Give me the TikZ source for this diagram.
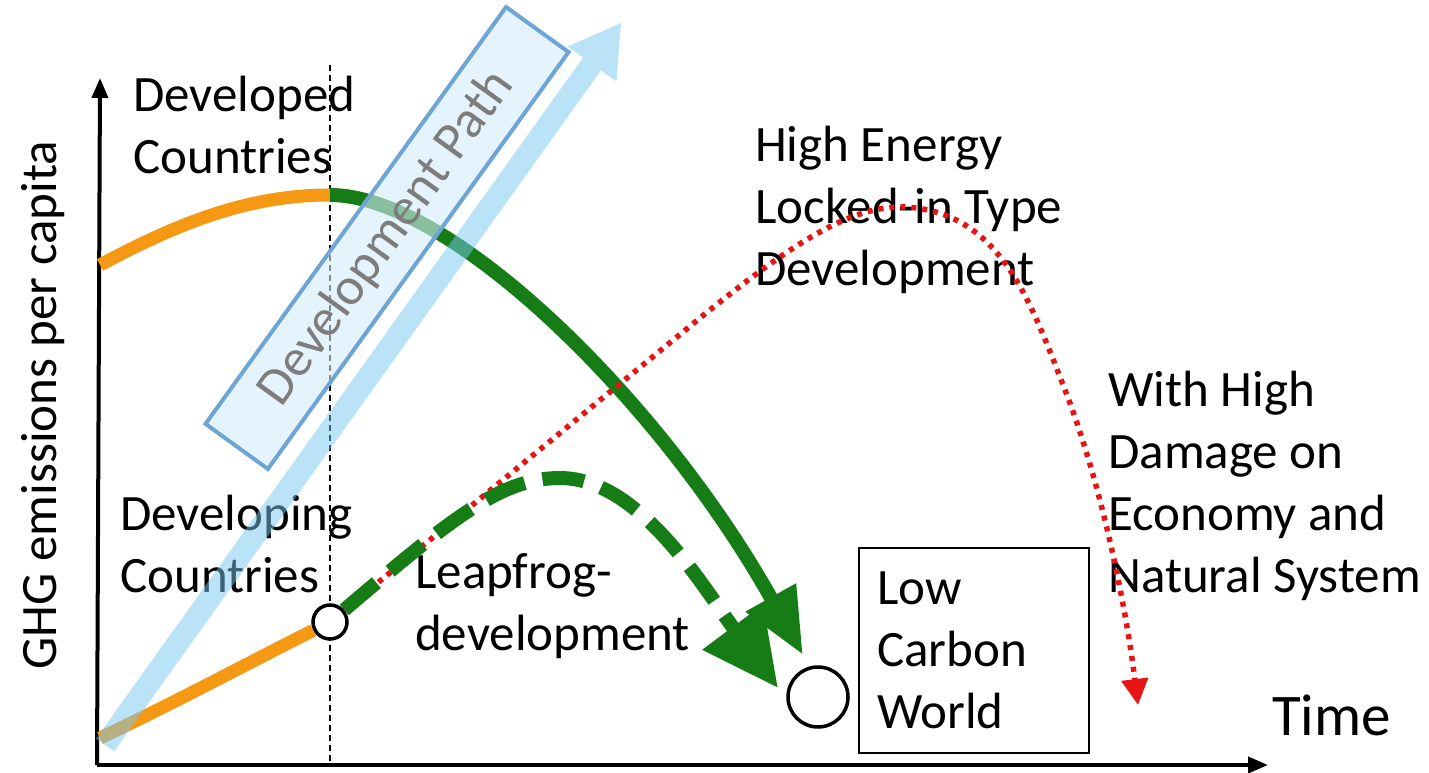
\documentclass[tikz,border=0pt]{standalone}
\usepackage{fontspec}
\setmainfont{Carlito}
\usetikzlibrary{arrows.meta}
\definecolor{orangeC}{RGB}{245,152,20}
\definecolor{greenC}{RGB}{22,125,22}
\definecolor{redC}{RGB}{232,20,20}
\definecolor{pathblue}{RGB}{110,165,215}
\definecolor{pathfill}{RGB}{212,235,250}
\definecolor{arrowblue}{RGB}{120,200,242}
\definecolor{pathtext}{RGB}{125,125,125}
\begin{document}
\begin{tikzpicture}[x=1pt,y=-1pt,
  lbl/.style={font=\fontsize{51}{62}\selectfont, align=left, anchor=base west, inner sep=0pt},
  axisline/.style={line width=4pt, -{Triangle[width=16pt,length=20pt]}},
  orangeline/.style={orangeC, line width=13pt},
  greenline/.style={greenC, line width=14pt},
  redline/.style={redC, line width=5.5pt, dash pattern=on 5pt off 6pt},
  ring/.style={circle, draw=black, fill=white, line width=3.5pt, inner sep=0pt},
  pathbox/.style={draw=pathblue, line width=4pt, fill=pathfill, fill opacity=0.6, text opacity=1, text=pathtext, inner sep=0pt, font=\fontsize{53}{62}\selectfont},
  guide/.style={black, line width=1.3pt, dash pattern=on 6pt off 4pt}
]
\useasboundingbox (0,0) rectangle (1429,773);

% axes
\coordinate (orig) at (100,765);
\coordinate (ytop) at (100,78);
\coordinate (xend) at (1268,765);
\draw[axisline] (97,765) -- (ytop);
\draw[axisline] (97,765) -- (xend);

% vertical guide
\coordinate (g1) at (330,65);
\coordinate (g2) at (330,765);
\draw[guide] (g1) -- (g2);

% labels (anchor = baseline of last line)
\node[lbl, rotate=90, anchor=base] (ylab) at (56,405) {GHG emissions per capita};
\node[lbl] (developed) at (133,173) {Developed\\Countries};
\node[lbl] (developing) at (120,592) {Developing\\Countries};
\node[lbl] (leap) at (415,650) {Leapfrog-\\development};
\node[lbl] (high) at (755,285) {High Energy\\Locked-in Type\\Development};
\node[lbl] (damage) at (1108,592) {With High\\Damage on\\Economy and\\Natural System};
\node[lbl, font=\fontsize{59}{62}\selectfont] (time) at (1272,735) {Time};

% low carbon world box
\node[draw=black, line width=2pt, minimum width=230pt, minimum height=205pt, anchor=north west, inner sep=0pt] (box) at (858,547) {};
\node[lbl] (lcwtext) at (877,728) {Low\\Carbon\\World};

% circles
\node[ring, minimum size=34pt] (dev) at (330,622) {};
\node[ring, minimum size=60pt] (lcw) at (818,697) {};

% key points
\coordinate (o1) at (100,265);
\coordinate (top) at (330,195);
\coordinate (o2) at (100,738);
\coordinate (gtip) at (803,655);
\coordinate (dtip) at (778,688);
\coordinate (rtip) at (1138,705);

% orange curves
\draw[orangeline] (o1) .. controls (180,222) and (250,195) .. (top);
\draw[orangeline] (o2) .. controls (180,700) and (250,662) .. (dev);

% green solid
\draw[greenline, -{Triangle[width=54pt,length=66pt]}] (top) .. controls (450,195) and (660,400) .. (gtip);

% red dotted
\draw[redline, -{Triangle[width=26pt,length=26pt]}] (dev) -- (700,318) .. controls (790,245) and (850,205) .. (905,207) .. controls (1000,212) and (1030,300) .. (1065,390) .. controls (1100,480) and (1125,600) .. (rtip);

% green dashed
\draw[greenline, dash pattern=on 42pt off 18pt, -{Triangle[width=72pt,length=76pt]}] (dev) .. controls (450,520) and (500,478) .. (560,478) .. controls (640,478) and (705,590) .. (dtip);

% development path arrow
\fill[arrowblue, opacity=0.5] (96,738.6) -- (583,57.6) -- (567.6,46.5) -- (621,23) -- (616.4,81.5) -- (601,70.4) -- (114,751.4) -- cycle;

% development path box
\node[pathbox, rotate=54.2, minimum width=514pt, minimum height=77pt] (dp) at (387,238) {Development Path};
\end{tikzpicture}
\end{document}
